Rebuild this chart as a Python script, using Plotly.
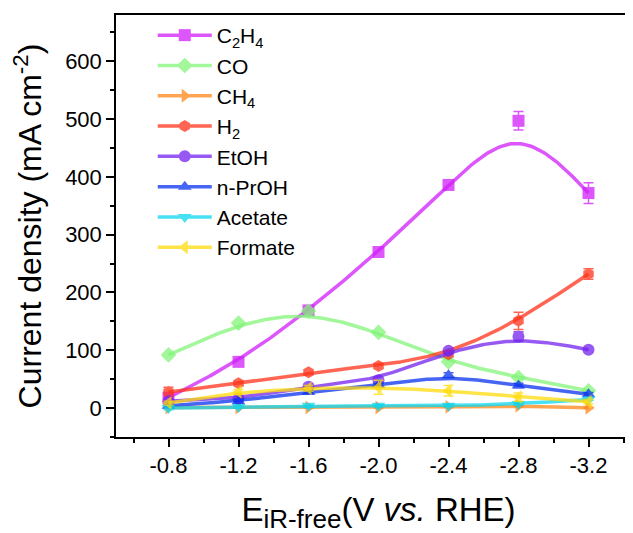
import numpy as np
import plotly.graph_objects as go

# ---------------- data ----------------
potential = [-0.8, -1.2, -1.6, -2.0, -2.4, -2.8, -3.2]
tick_labels = ["-0.8", "-1.2", "-1.6", "-2.0", "-2.4", "-2.8", "-3.2"]

c2h4 = [18, 80, 169, 270, 386, 497, 372]
c2h4_err = [3, 4, 3, 5, 4, 16, 18]
co = [92, 147, 168, 131, 80, 53, 30]
co_err = [3, 4, 4, 4, 3, 3, 3]
ch4 = [1, 1, 1, 1, 2, 4, 0.5]
ch4_err = [1, 1, 1, 1, 1, 1, 1]
h2 = [28, 43, 62, 73, 93, 151, 232]
h2_err = [8, 4, 4, 4, 4, 15, 9]
etoh = [12, 16, 37, 48, 99, 124, 101]
etoh_err = [3, 3, 5, 5, 5, 8, 4]
nproh = [4, 12, 28, 40, 57, 39, 24]
nproh_err = [2, 3, 3, 3, 4, 4, 3]
acetate = [0, 2, 4, 4, 4, 7, 15]
acetate_err = [3, 2, 2, 2, 2, 2, 2]
formate = [9, 28, 34, 36, 30, 19, 11]
formate_err = [3, 4, 5, 12, 9, 7, 4]

names = ["C<sub>2</sub>H<sub>4</sub>", "CO", "CH<sub>4</sub>", "H<sub>2</sub>",
         "EtOH", "n-PrOH", "Acetate", "Formate"]
series = [c2h4, co, ch4, h2, etoh, nproh, acetate, formate]
errors = [c2h4_err, co_err, ch4_err, h2_err, etoh_err, nproh_err, acetate_err, formate_err]
colors = ["rgb(210,30,250)", "rgb(130,245,120)", "rgb(255,135,25)", "rgb(255,50,25)",
          "rgb(115,35,240)", "rgb(10,50,240)", "rgb(10,215,240)", "rgb(255,220,10)"]
symbols = ["square", "diamond", "triangle-right", "hexagon", "circle",
           "triangle-up", "triangle-down", "triangle-left"]


# uniform cubic B-spline with the end points tripled (Origin-style "B-Spline" line)
def bspline(xs, ys, n_seg=40):
    P = np.column_stack([xs, ys]).astype(float)
    Q = np.vstack([P[0], P[0], P, P[-1], P[-1]])
    t = np.linspace(0, 1, n_seg)[:, None]
    b0 = (1 - t) ** 3 / 6
    b1 = (3 * t ** 3 - 6 * t ** 2 + 4) / 6
    b2 = (-3 * t ** 3 + 3 * t ** 2 + 3 * t + 1) / 6
    b3 = t ** 3 / 6
    pts = [b0 * Q[i] + b1 * Q[i + 1] + b2 * Q[i + 2] + b3 * Q[i + 3] for i in range(len(Q) - 3)]
    out = np.vstack(pts)
    return out[:, 0], out[:, 1]


fig = go.Figure()
OP = 0.75
for name, ys, err, col, sym in zip(names, series, errors, colors, symbols):
    cx, cy = bspline(potential, ys)
    fig.add_trace(go.Scatter(x=cx, y=cy, mode="lines", line=dict(color=col, width=3.5),
                             opacity=OP, showlegend=False, hoverinfo="skip"))
    fig.add_trace(go.Scatter(x=potential, y=ys, mode="markers",
                             marker=dict(symbol=sym, size=12, color=col),
                             error_y=dict(type="data", array=err, color=col, thickness=1.5, width=5),
                             opacity=OP, showlegend=False))
    fig.add_trace(go.Scatter(x=[None], y=[None], mode="lines+markers", name=name,
                             legendgroup=name,
                             line=dict(color=col, width=3.5),
                             marker=dict(symbol=sym, size=12, color=col), opacity=OP))

FONT = "Liberation Sans, Arial, sans-serif"
fig.update_layout(
    width=633, height=533,
    margin=dict(l=108, r=0, t=7, b=104),
    paper_bgcolor="white", plot_bgcolor="white",
    font=dict(family=FONT, color="black"),
    showlegend=True,
    legend=dict(x=0.070, y=1.0, xanchor="left", yanchor="top",
                bgcolor="rgba(0,0,0,0)", font=dict(size=21, family=FONT),
                tracegroupgap=0, traceorder="grouped", itemwidth=54),
    xaxis=dict(range=[-0.5, -3.5], tickmode="array", tickvals=potential, ticktext=tick_labels,
               automargin=False,
               showgrid=False, zeroline=False, showline=True, linecolor="black", linewidth=1.5,
               mirror=True, ticks="outside", ticklen=8, tickwidth=1.5, tickcolor="black",
               tickfont=dict(size=22),
               minor=dict(tickmode="linear", tick0=0, dtick=0.2, ticks="outside", ticklen=4,
                          tickwidth=1.5, tickcolor="black"),
               title=dict(text="E<sub><span style='font-size:26px'>iR-free</span></sub>(V <i>vs.</i> RHE)",
                          font=dict(size=33), standoff=21)),
    yaxis=dict(range=[-50, 680], tickmode="linear", tick0=0, dtick=100,
               automargin=False,
               showgrid=False, zeroline=False, showline=True, linecolor="black", linewidth=1.5,
               ticks="outside", ticklen=8, tickwidth=1.5, tickcolor="black",
               tickfont=dict(size=22),
               minor=dict(tickmode="linear", tick0=0, dtick=50, ticks="outside", ticklen=4,
                          tickwidth=1.5, tickcolor="black"),
               title=dict(text="Current density (mA cm<sup>-2</sup>)", font=dict(size=32), standoff=14)),
)

fig.write_html("out.html")
